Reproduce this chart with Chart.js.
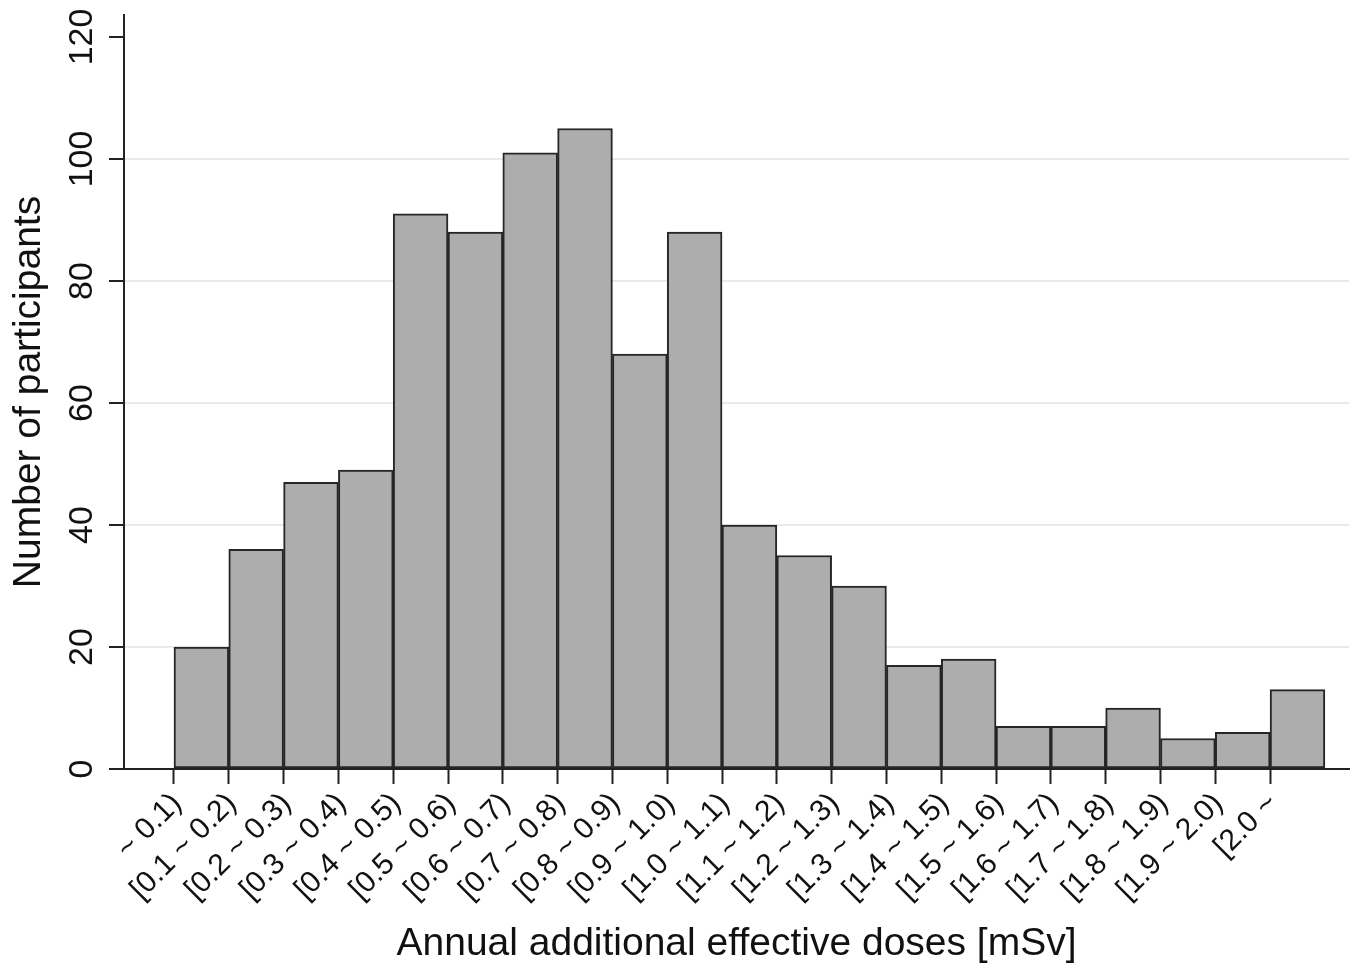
<!DOCTYPE html>
<html>
<head>
<meta charset="utf-8">
<script src="https://cdn.jsdelivr.net/npm/chart.js@4.4.1/dist/chart.umd.min.js"></script>
<style>
html,body{margin:0;padding:0;background:#fff;}
canvas{display:block;}
</style>
</head>
<body>
<canvas id="c" width="1351" height="968"></canvas>
<script>
const categories = ["~ 0.1)", "[0.1 ~ 0.2)", "[0.2 ~ 0.3)", "[0.3 ~ 0.4)", "[0.4 ~ 0.5)", "[0.5 ~ 0.6)", "[0.6 ~ 0.7)", "[0.7 ~ 0.8)", "[0.8 ~ 0.9)", "[0.9 ~ 1.0)", "[1.0 ~ 1.1)", "[1.1 ~ 1.2)", "[1.2 ~ 1.3)", "[1.3 ~ 1.4)", "[1.4 ~ 1.5)", "[1.5 ~ 1.6)", "[1.6 ~ 1.7)", "[1.7 ~ 1.8)", "[1.8 ~ 1.9)", "[1.9 ~ 2.0)", "[2.0 ~"];
const participants = [20, 36, 47, 49, 91, 88, 101, 105, 68, 88, 40, 35, 30, 17, 18, 7, 7, 10, 5, 6, 13];
const yTickValues = [0, 20, 40, 60, 80, 100, 120];
const xTitle = "Annual additional effective doses [mSv]";
const yTitle = "Number of participants";

const FONT = "'Liberation Sans', Arial, Helvetica, sans-serif";
const TEXT = '#111111';

const barData = participants.map((v, i) => ({ x: i + 0.5, y: v }));

new Chart(document.getElementById('c'), {
  type: 'bar',
  data: {
    datasets: [{
      data: barData,
      backgroundColor: '#adadad',
      borderColor: '#262626',
      borderWidth: 2,
      borderSkipped: false,
      barPercentage: 1,
      categoryPercentage: 1
    }]
  },
  options: {
    responsive: false,
    devicePixelRatio: 1,
    animation: false,
    layout: { padding: { top: 15, right: 2, left: 0, bottom: 0 } },
    plugins: { legend: { display: false }, tooltip: { enabled: false } },
    scales: {
      x: {
        type: 'linear',
        offset: false,
        min: -0.912,
        max: 21.44,
        afterBuildTicks: (scale) => { scale.ticks = categories.map((c, i) => ({ value: i })); },
        afterFit: (scale) => { scale.height = 199; scale.paddingLeft = 0; scale.paddingRight = 0; },
        ticks: {
          autoSkip: false,
          minRotation: 45,
          maxRotation: 45,
          padding: 2,
          labelOffset: 3,
          color: TEXT,
          font: { family: FONT, size: 30 },
          callback: (value) => categories[value]
        },
        grid: {
          offset: false,
          drawOnChartArea: false,
          drawTicks: true,
          tickLength: 15,
          tickColor: '#222',
          tickWidth: 2
        },
        border: { display: true, color: '#222', width: 2 },
        title: {
          display: true,
          text: xTitle,
          color: TEXT,
          font: { family: FONT, size: 39 },
          padding: { top: 0, bottom: 0 }
        }
      },
      y: {
        type: 'linear',
        min: 0,
        max: 123.6,
        afterBuildTicks: (scale) => { scale.ticks = yTickValues.map(v => ({ value: v })); },
        afterFit: (scale) => { scale.width = 124; scale.paddingTop = 0; scale.paddingBottom = 0; },
        ticks: {
          minRotation: 90,
          maxRotation: 90,
          crossAlign: 'center',
          padding: -2,
          color: TEXT,
          font: { family: FONT, size: 34 }
        },
        grid: {
          color: (ctx) => (ctx.tick && (ctx.tick.value === 0 || ctx.tick.value === 120)) ? 'rgba(0,0,0,0)' : '#e3edef',
          lineWidth: 2,
          drawTicks: true,
          tickLength: 15,
          tickColor: '#222',
          tickWidth: 2
        },
        border: { display: true, color: '#222', width: 2 },
        title: {
          display: true,
          text: yTitle,
          color: TEXT,
          font: { family: FONT, size: 39 },
          padding: { top: 6, bottom: 0 }
        }
      }
    }
  }
});
</script>
</body>
</html>
